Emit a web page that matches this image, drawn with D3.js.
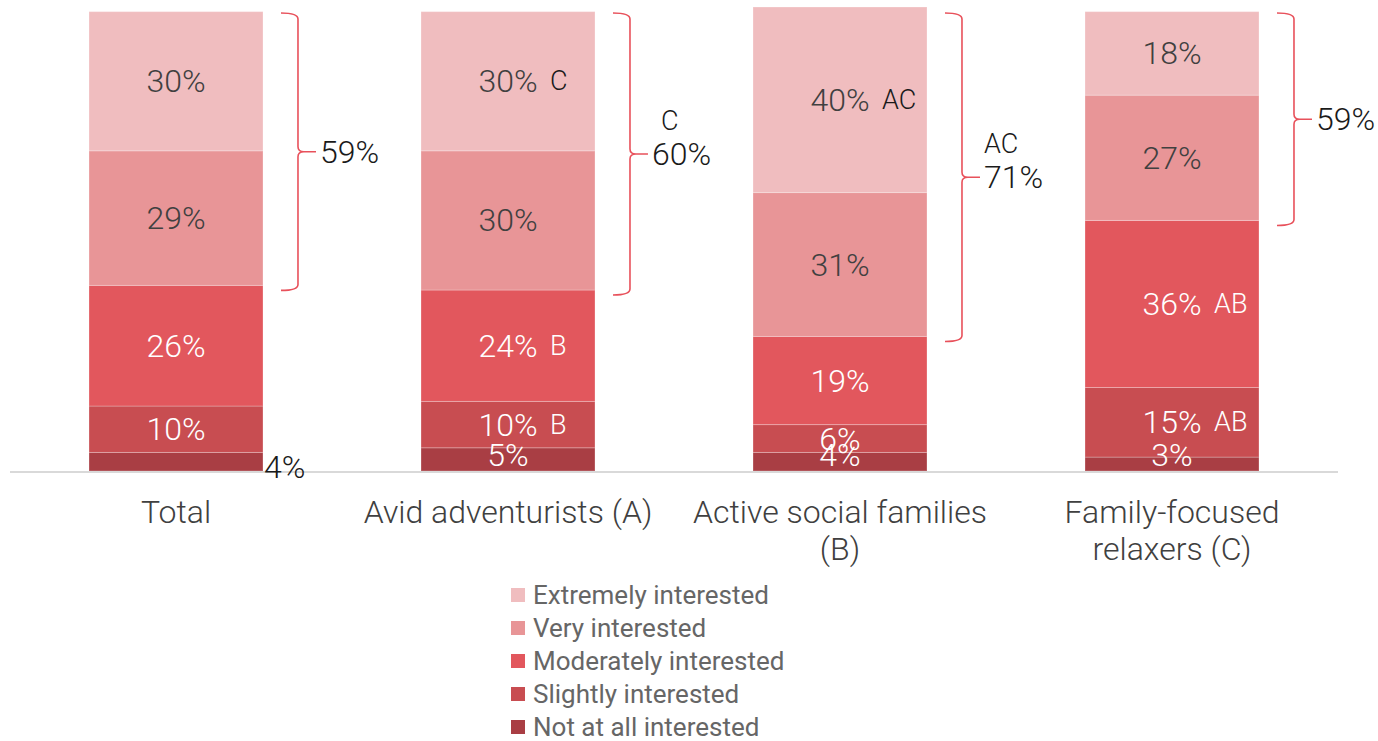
<!DOCTYPE html>
<html>
<head>
<meta charset="utf-8">
<script src="https://cdn.jsdelivr.net/npm/d3@7"></script>
<style>
  html, body { margin: 0; padding: 0; background: #fff; }
  svg { display: block; }
</style>
</head>
<body>
<svg id="chart" width="1378" height="741"></svg>
<script>
// ---- Data ----
const categories = ["Total", "Avid adventurists (A)", "Active social families (B)", "Family-focused relaxers (C)"];
const categoryLines = [["Total"], ["Avid adventurists (A)"], ["Active social families", "(B)"], ["Family-focused", "relaxers (C)"]];
const seriesNames = ["Not at all interested", "Slightly interested", "Moderately interested", "Very interested", "Extremely interested"];
const notAtAll   = [4, 5, 4, 3];
const slightly   = [10, 10, 6, 15];
const moderately = [26, 24, 19, 36];
const very       = [29, 30, 31, 27];
const extremely  = [30, 30, 40, 18];
const sigNotAtAll   = ["", "", "", ""];
const sigSlightly   = ["", "B", "", "AB"];
const sigModerately = ["", "B", "", "AB"];
const sigVery       = ["", "", "", ""];
const sigExtremely  = ["", "C", "AC", ""];
const netTop2 = [59, 60, 71, 59];
const netSig  = ["", "C", "AC", ""];
const legendOrder = ["Extremely interested", "Very interested", "Moderately interested", "Slightly interested", "Not at all interested"];

const seriesValues = [notAtAll, slightly, moderately, very, extremely];
const seriesSig = [sigNotAtAll, sigSlightly, sigModerately, sigVery, sigExtremely];
const colors = {
  "Not at all interested": "#A93E44",
  "Slightly interested": "#C84D51",
  "Moderately interested": "#E2575D",
  "Very interested": "#E89597",
  "Extremely interested": "#F0BDBF"
};
const darkText = { "Very interested": true, "Extremely interested": true };

// ---- Layout ----
const svg = d3.select("#chart");
const baseY = 471;
const x = d3.scaleBand().domain(categories).range([10, 1338]).paddingInner(0.476).paddingOuter(0.238);
const y = d3.scaleLinear().domain([0, 100]).range([baseY, 7]);

const rows = categories.map((c, i) => {
  const r = { cat: c };
  seriesNames.forEach((s, j) => r[s] = seriesValues[j][i]);
  return r;
});
const stacked = d3.stack().keys(seriesNames)(rows);

const fontMain = "Roboto, 'Open Sans', sans-serif";

// bars
const gBars = svg.append("g");
stacked.forEach((layer, j) => {
  gBars.selectAll(null).data(layer).enter().append("rect")
    .attr("x", d => x(d.data.cat))
    .attr("width", x.bandwidth())
    .attr("y", d => y(d[1]))
    .attr("height", d => y(d[0]) - y(d[1]))
    .attr("fill", colors[layer.key])
    .attr("stroke", "rgba(255,255,255,0.25)")
    .attr("stroke-width", 1);
});

// baseline
svg.append("line")
  .attr("x1", x.range()[0]).attr("x2", x.range()[1])
  .attr("y1", baseY + 1).attr("y2", baseY + 1)
  .attr("stroke", "#D9D9D9").attr("stroke-width", 2);

// value labels
const gLab = svg.append("g").attr("font-family", fontMain).attr("font-weight", 300);
stacked.forEach((layer, j) => {
  layer.forEach((d, i) => {
    const cx = x(d.data.cat) + x.bandwidth() / 2;
    let cy = (y(d[0]) + y(d[1])) / 2;
    const val = d.data[layer.key];
    const fill = darkText[layer.key] ? "#404040" : "#FFFFFF";
    if (i === 0 && j === 0) {
      // Total "Not at all" label sits outside to the right of the bar
      gLab.append("text")
        .attr("x", x(d.data.cat) + x.bandwidth() + 1)
        .attr("y", cy + 5)
        .attr("dominant-baseline", "central")
        .attr("font-size", 32)
        .attr("fill", "#1A1A1A")
        .text(val + "%");
      return;
    }
    if (val < 6) cy = Math.min(cy, baseY - 16);
    gLab.append("text")
      .attr("x", cx).attr("y", cy)
      .attr("text-anchor", "middle")
      .attr("dominant-baseline", "central")
      .attr("font-size", 32)
      .attr("fill", fill)
      .text(val + "%");
    const sig = seriesSig[j][i];
    if (sig) {
      gLab.append("text")
        .attr("x", cx + 42).attr("y", cy)
        .attr("dominant-baseline", "central")
        .attr("font-size", 27)
        .attr("fill", darkText[layer.key] ? "#1A1A1A" : "#FFFFFF")
        .text(sig);
    }
  });
});

// braces for top-2 box
const gBr = svg.append("g");
categories.forEach((c, i) => {
  const topVal = d3.sum(seriesValues, v => v[i]);
  const veryBottom = notAtAll[i] + slightly[i] + moderately[i];
  const yTop = Math.max(y(topVal), 12) + 1;
  const yBot = y(veryBottom) + 5;
  const mid = (yTop + yBot) / 2;
  const x0 = x(c) + x.bandwidth() + 18;
  const v = x0 + 17;
  const p = `M${x0},${yTop} Q${v},${yTop} ${v},${yTop + 6} L${v},${mid - 5} Q${v},${mid} ${v + 6},${mid} L${x0 + 35},${mid} M${v + 6},${mid} Q${v},${mid} ${v},${mid + 5} L${v},${yBot - 6} Q${v},${yBot} ${x0},${yBot}`;
  gBr.append("path").attr("d", p).attr("fill", "none")
    .attr("stroke", "#E8515B").attr("stroke-width", 1.6);
  gBr.append("text")
    .attr("x", x0 + 39).attr("y", mid)
    .attr("dominant-baseline", "central")
    .attr("font-family", fontMain).attr("font-weight", 300)
    .attr("font-size", 32).attr("fill", "#1A1A1A")
    .text(netTop2[i] + "%");
  if (netSig[i]) {
    gBr.append("text")
      .attr("x", x0 + 39 + (netSig[i].length === 1 ? 9 : 0)).attr("y", mid - 33)
      .attr("dominant-baseline", "central")
      .attr("font-family", fontMain).attr("font-weight", 300)
      .attr("font-size", 27).attr("fill", "#1A1A1A")
      .text(netSig[i]);
  }
});

// category labels
const gCat = svg.append("g").attr("font-family", fontMain).attr("font-weight", 300)
  .attr("font-size", 32).attr("fill", "#404040");
categories.forEach((c, i) => {
  const t = gCat.append("text").attr("text-anchor", "middle")
    .attr("x", x(c) + x.bandwidth() / 2).attr("y", 512)
    .attr("dominant-baseline", "central");
  categoryLines[i].forEach((line, k) => {
    t.append("tspan").attr("x", x(c) + x.bandwidth() / 2).attr("dy", k === 0 ? 0 : 37).text(line);
  });
});

// legend
const gLeg = svg.append("g").attr("font-family", fontMain).attr("font-size", 26).attr("fill", "#666666");
legendOrder.forEach((s, k) => {
  const ly = 595 + k * 33;
  gLeg.append("rect").attr("x", 511).attr("y", ly - 7).attr("width", 14).attr("height", 14).attr("fill", colors[s]);
  gLeg.append("text").attr("x", 533).attr("y", ly).attr("dominant-baseline", "central").text(s);
});
</script>
</body>
</html>
